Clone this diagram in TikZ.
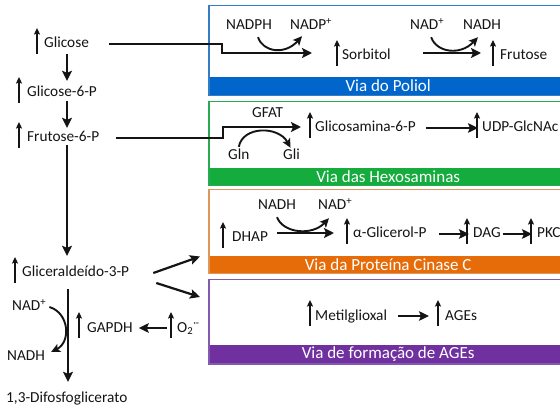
\documentclass[tikz,border=0pt]{standalone}
\usepackage{fontspec}
\setmainfont{Carlito}
\usetikzlibrary{arrows.meta,calc}
\definecolor{blueband}{RGB}{0,102,204}
\definecolor{blueline}{RGB}{50,125,195}
\definecolor{greenband}{RGB}{20,172,60}
\definecolor{greenline}{RGB}{40,170,80}
\definecolor{orangeband}{RGB}{230,108,10}
\definecolor{orangeline}{RGB}{222,150,90}
\definecolor{purpleband}{RGB}{112,48,160}
\definecolor{purpleline}{RGB}{130,90,175}
\definecolor{ink}{RGB}{20,20,20}
\newcommand\UA[2][6]{\draw[upar] ([shift={(-#1pt,-6pt)}]#2.base west) -- ([shift={(-#1pt,20pt)}]#2.base west);}
\begin{document}
\begin{tikzpicture}[x=1pt,y=-1pt,
  txt/.style={font=\fontsize{15.3}{18}\selectfont, text=ink, inner sep=0pt, anchor=base west, text height=11pt, text depth=3pt},
  bandbox/.style={font=\fontsize{17}{20}\selectfont, text=white, inner sep=0pt, anchor=south west, minimum width=360pt, minimum height=18pt},
  boxframe/.style={line width=1.5pt, anchor=north west, minimum width=360pt, inner sep=0pt},
  conn/.style={draw=ink, line width=2.4pt, -{Stealth[length=10pt,width=10pt,inset=2pt]}},
  short/.style={draw=ink, line width=2.2pt, -{Stealth[length=10pt,width=9.5pt,inset=2pt]}},
  upar/.style={draw=ink, line width=1.5pt, -{Stealth[length=6.5pt,width=6pt,inset=1pt]}},
  curv/.style={draw=ink, line width=1.9pt, -{Stealth[length=9pt,width=8.5pt,inset=2pt]}}]
\useasboundingbox (0,0) rectangle (560,406);
\clip (0,0) rectangle (560,406);

% ---------- boxes ----------
\node[bandbox, fill=blueband] (band1) at (208,95) {Via do Poliol};
\node[boxframe, draw=blueline, minimum height=90pt] (box1) at (208,5) {};
\node[bandbox, fill=greenband, minimum height=17pt] (band2) at (208,185) {Via das Hexosaminas};
\node[boxframe, draw=greenline, minimum height=84pt] (box2) at (208,101) {};
\node[bandbox, fill=orangeband, minimum height=17pt] (band3) at (208,273) {Via da Proteína Cinase C};
\node[boxframe, draw=orangeline, minimum height=84pt] (box3) at (208,189) {};
\node[bandbox, fill=purpleband] (band4) at (208,363) {Via de formação de AGEs};
\node[boxframe, draw=purpleline, minimum height=84pt] (box4) at (208,279) {};

% ---------- left column ----------
\coordinate (col) at (67,0);
\node[txt] (glc) at (44,48) {Glicose};
\node[txt] (g6p) at (27,97) {Glicose-6-P};
\node[txt] (f6p) at (27,142) {Frutose-6-P};
\node[txt] (gap) at (22,277) {Gliceraldeído-3-P};
\node[txt] (nadL) at (12,311) {NAD\textsuperscript{+}};
\node[txt] (nadhL) at (7,360) {NADH};
\node[txt] (gapdh) at (87,332) {GAPDH};
\node[txt] (o2) at (177,332) {O\textsubscript{2}\textsuperscript{·-}};
\node[txt] (dpg) at (6,402) {1,3-Difosfoglicerato};
\UA[7]{glc}
\UA[8]{g6p}
\UA[8]{f6p}
\UA[7]{gap}
\UA[8]{gapdh}
\UA[6]{o2}

\draw[conn] ($(glc.south-|col)+(0,3)$) -- ($(g6p.north-|col)+(0,-5)$);
\draw[conn] ($(g6p.south-|col)+(0,1)$) -- ($(f6p.north-|col)+(0,-3)$);
\draw[conn] ($(f6p.south-|col)+(0,0)$) -- ($(gap.north-|col)+(0,-10)$);
\draw[conn] ($(gap.south-|col)+(1,9)$) -- ($(dpg.north-|col)+(1,-9)$);
\draw[curv] ([xshift=3pt]nadL.east) .. controls +(20,6) and +(20,-10) .. ([shift={(6pt,4pt)}]nadhL.east);
\draw[short] ([xshift=-10pt]o2.west) -- ([xshift=6pt]gapdh.east);
\draw[short] ([xshift=24pt]gap.east) -- ($(box3.south west)+(-8,-18)$);
\draw[short] ([shift={(27pt,-10pt)}]gap.east) -- ($(box4.north west)+(-8,18)$);

% ---------- Via do Poliol ----------
\coordinate (p1) at (312,53);
\draw[conn,line width=2.2pt] ([xshift=20pt]glc.east) -| (222,53) -- (p1);
\node[txt] (nadph) at (226,30) {NADPH};
\node[txt] (nadp) at (290,30) {NADP\textsuperscript{+}};
\draw[curv] ([shift={(9pt,-4pt)}]nadph.south) .. controls +(5,15) and +(-17,19) .. ([shift={(12pt,-3pt)}]nadp.south west);
\node[txt] (sorb) at (342,60) {Sorbitol};
\UA[5]{sorb}
\node[txt] (nad2) at (410,30) {NAD\textsuperscript{+}};
\node[txt] (nadh2) at (463,30) {NADH};
\coordinate (q1) at (423,53);
\coordinate (q2) at (481,53);
\draw[conn,line width=2.2pt] (q1) -- (q2);
\draw[curv] ([shift={(4pt,-4pt)}]nad2.south) .. controls +(5,15) and +(-18,19) .. ([shift={(15pt,-4pt)}]nadh2.south west);
\node[txt] (fru) at (500,60) {Frutose};
\UA[7]{fru}

% ---------- Via das Hexosaminas ----------
\coordinate (h1) at (301,127);
\draw[conn,line width=2.2pt] ([xshift=17pt]f6p.east) -| (223,127) -- (h1);
\node[txt] (gfat) at (252,118) {GFAT};
\node[txt] (gln) at (228,160) {Gln};
\node[txt] (gli) at (283,160) {Gli};
\draw[curv] ([yshift=2pt]gln.north) .. controls +(4,-21) and +(-12,-22) .. ([shift={(-1pt,1pt)}]gli.north);
\node[txt] (glcn) at (315,132) {Glicosamina-6-P};
\UA[5]{glcn}
\node[txt] (udp) at (482,132) {UDP-GlcNAc};
\UA[5]{udp}
\draw[short] ([xshift=10pt]glcn.east) -- ([xshift=-4pt]udp.west);

% ---------- Via da Proteína Cinase C ----------
\node[txt] (nadh3) at (258,210) {NADH};
\node[txt] (nad3) at (318,210) {NAD\textsuperscript{+}};
\node[txt] (dhap) at (232,242) {DHAP};
\UA[9]{dhap}
\node[txt] (agp) at (353,238) {α-Glicerol-P};
\UA[6]{agp}
\coordinate (r1) at (277,233);
\coordinate (r2) at (334,233);
\draw[conn,line width=2.2pt] (r1) -- (r2);
\draw[curv] ([yshift=-4pt]nadh3.south) .. controls +(6,16) and +(-17,18) .. ([shift={(11pt,-5pt)}]nad3.south west);
\node[txt] (dag) at (473,238) {DAG};
\UA[6]{dag}
\node[txt] (pkc) at (537,238) {PKC};
\UA[6]{pkc}
\draw[short] ([xshift=12pt]agp.east) -- ([xshift=-4pt]dag.west);
\draw[short] ([xshift=2pt]dag.east) -- ([xshift=-5pt]pkc.west);

% ---------- Via de formação de AGEs ----------
\node[txt] (metg) at (315,320) {Metilglioxal};
\UA[5]{metg}
\node[txt] (ages) at (445,320) {AGEs};
\UA[7]{ages}
\draw[short] ([xshift=11pt]metg.east) -- ([xshift=-16pt]ages.west);
\end{tikzpicture}
\end{document}
